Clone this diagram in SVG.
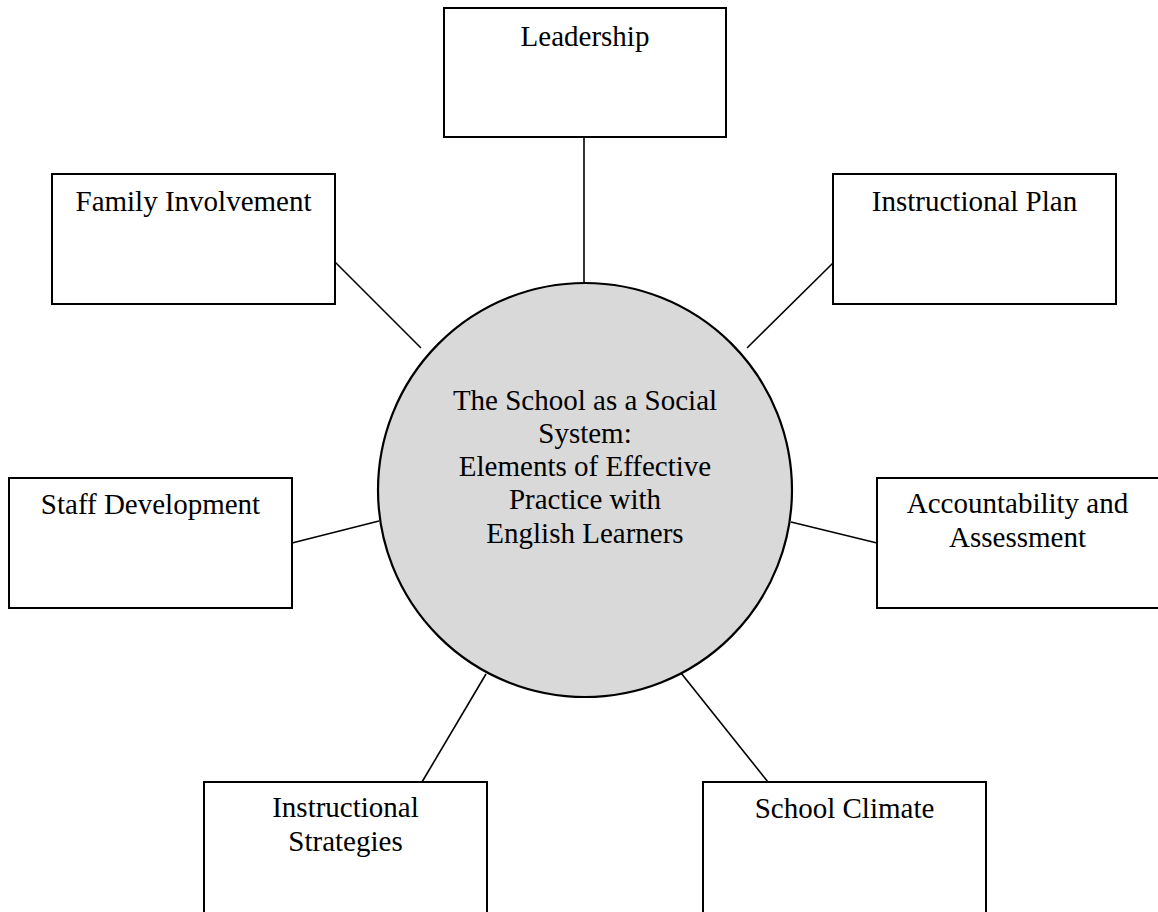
<svg xmlns="http://www.w3.org/2000/svg" width="1158" height="912" viewBox="0 0 1158 912">
<style>
.box{fill:#fff;stroke:#000;stroke-width:2}
.hub{fill:#d9d9d9;stroke:#000;stroke-width:2.2}
.lbl{font-family:"Liberation Serif","Times New Roman",serif;font-size:29px;fill:#000;text-anchor:middle}
.conn line{stroke:#000;stroke-width:1.6}
</style>
<rect width="1158" height="912" fill="#fff"/>
<g id="connectors" class="conn">
<line x1="584" y1="137" x2="584" y2="283"/>
<line x1="335" y1="262" x2="421" y2="348"/>
<line x1="833" y1="263" x2="747" y2="348"/>
<line x1="292" y1="543" x2="379" y2="521"/>
<line x1="791" y1="522" x2="877" y2="543"/>
<line x1="422" y1="782" x2="486" y2="674"/>
<line x1="681" y1="673" x2="768" y2="782"/>
</g>
<g id="hub">
<circle class="hub" cx="585" cy="490" r="207"/>
<text class="lbl" x="585" y="410">The School as a Social</text>
<text class="lbl" x="585" y="443">System:</text>
<text class="lbl" x="585" y="476">Elements of Effective</text>
<text class="lbl" x="585" y="509">Practice with</text>
<text class="lbl" x="585" y="543">English Learners</text>
</g>
<g id="leadership">
<rect class="box" x="444" y="8" width="282" height="129"/>
<text class="lbl" x="585" y="46">Leadership</text>
</g>
<g id="family-involvement">
<rect class="box" x="52" y="174" width="283" height="130"/>
<text class="lbl" x="193.5" y="211">Family Involvement</text>
</g>
<g id="instructional-plan">
<rect class="box" x="833" y="174" width="283" height="130"/>
<text class="lbl" x="974.5" y="211">Instructional Plan</text>
</g>
<g id="staff-development">
<rect class="box" x="9" y="478" width="283" height="130"/>
<text class="lbl" x="150.5" y="514">Staff Development</text>
</g>
<g id="accountability">
<rect class="box" x="877" y="478" width="283" height="130"/>
<text class="lbl" x="1017.5" y="513">Accountability and</text>
<text class="lbl" x="1017.5" y="547">Assessment</text>
</g>
<g id="instructional-strategies">
<rect class="box" x="204" y="782" width="283" height="132"/>
<text class="lbl" x="345.5" y="817">Instructional</text>
<text class="lbl" x="345.5" y="851">Strategies</text>
</g>
<g id="school-climate">
<rect class="box" x="703" y="782" width="283" height="132"/>
<text class="lbl" x="844.5" y="818">School Climate</text>
</g>
</svg>
